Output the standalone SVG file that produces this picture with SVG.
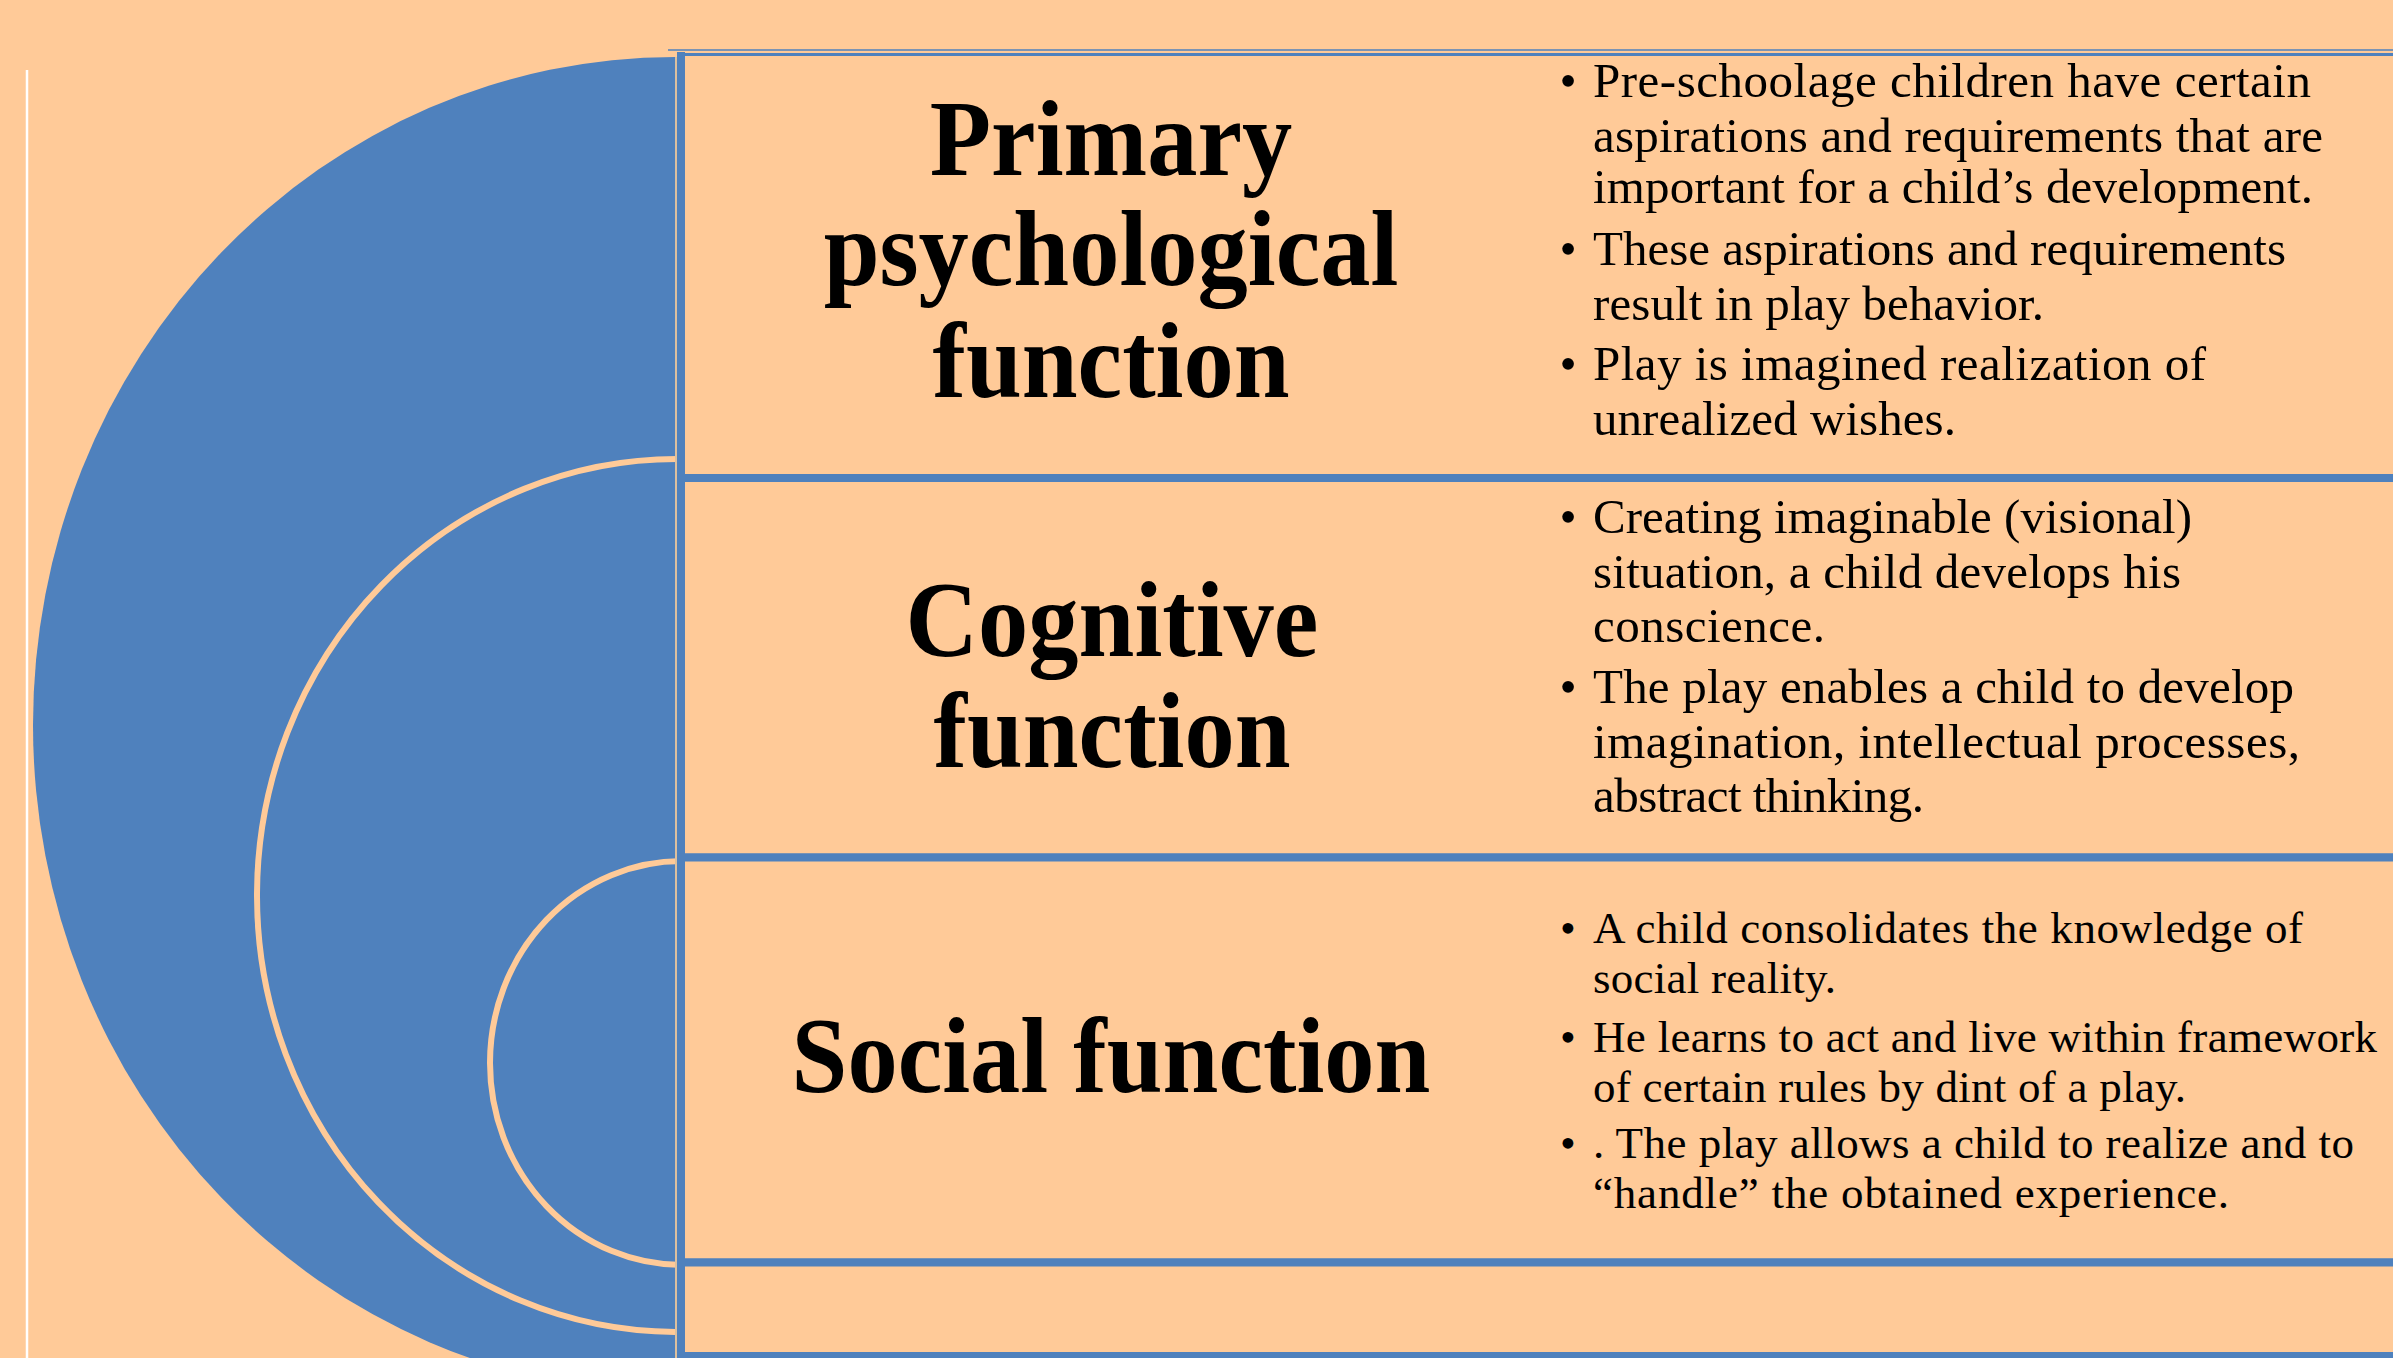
<svg xmlns="http://www.w3.org/2000/svg" width="2393" height="1358" viewBox="0 0 2393 1358">
  <style>
    .bg { fill: #FFCA98; }
    .disc { fill: #4F81BD; }
    .ring { fill: none; stroke: #FFCA98; stroke-width: 6; }
    .box { fill: #FFCA98; stroke: #4F81BD; stroke-width: 8; }
    .edge { fill: none; stroke: #4F81BD; }
    .title { font-family: "Liberation Serif", "Times New Roman", serif; font-weight: bold; font-size: 108px; fill: #000; text-anchor: middle; }
    .body { font-family: "Liberation Serif", "Times New Roman", serif; font-size: 49px; fill: #000; }
    .small { font-size: 45px; }
    .dot { text-anchor: middle; }
  </style>

  <!-- page background -->
  <rect class="bg" x="0" y="0" width="2393" height="1358"/>
  <line x1="27" y1="70" x2="27" y2="1358" stroke="#FFFFFF" stroke-width="2.5"/>

  <!-- nested half-disc on the left -->
  <g id="target">
    <path class="disc" d="M675,57 A642,668 0 0 0 675,1393 Z"/>
    <path class="ring" d="M679,459 A420,436.5 0 0 0 675,1332"/>
    <path class="ring" d="M682,861 A192,202 0 0 0 682,1265"/>
    <line x1="676" y1="57" x2="676" y2="1358" stroke="#D2BCA0" stroke-width="1.5"/>
  </g>

  <g id="connectors"></g>

  <!-- panel 1 -->
  <g id="box-primary">
    <rect x="681" y="54" width="1800" height="424" fill="#FFCA98"/>
    <path class="edge" stroke-width="8" d="M681,52 V478 H2400"/>
    <path class="edge" stroke-width="3" d="M677,54.5 H2400"/>
    <path class="edge" stroke-width="1.5" d="M668,50 H2400"/>
    <text class="title" transform="translate(1111,175) scale(0.93,1)">Primary</text>
    <text class="title" transform="translate(1111,285) scale(0.93,1)">psychological</text>
    <text class="title" transform="translate(1111,397) scale(0.93,1)">function</text>
    <g class="body">
      <text class="dot" x="1568" y="97">•</text>
      <text x="1593" y="97" textLength="718" lengthAdjust="spacing">Pre-schoolage children have certain</text>
      <text x="1593" y="152" textLength="730" lengthAdjust="spacing">aspirations and requirements that are</text>
      <text x="1593" y="203" textLength="720" lengthAdjust="spacing">important for a child’s development.</text>
      <text class="dot" x="1568" y="265">•</text>
      <text x="1593" y="265" textLength="693" lengthAdjust="spacing">These aspirations and requirements</text>
      <text x="1593" y="320" textLength="451" lengthAdjust="spacing">result in play behavior.</text>
      <text class="dot" x="1568" y="380">•</text>
      <text x="1593" y="380" textLength="613" lengthAdjust="spacing">Play is imagined realization of</text>
      <text x="1593" y="435" textLength="363" lengthAdjust="spacing">unrealized wishes.</text>
    </g>
  </g>

  <!-- panel 2 -->
  <g id="box-cognitive">
    <rect class="box" x="681" y="478" width="1800" height="379.5"/>
    <text class="title" transform="translate(1112,656) scale(0.93,1)">Cognitive</text>
    <text class="title" transform="translate(1112,767) scale(0.93,1)">function</text>
    <g class="body">
      <text class="dot" x="1568" y="533">•</text>
      <text x="1593" y="533" textLength="599" lengthAdjust="spacing">Creating imaginable (visional)</text>
      <text x="1593" y="588" textLength="588" lengthAdjust="spacing">situation, a child develops his</text>
      <text x="1593" y="642" textLength="232" lengthAdjust="spacing">conscience.</text>
      <text class="dot" x="1568" y="703">•</text>
      <text x="1593" y="703" textLength="701" lengthAdjust="spacing">The play enables a child to develop</text>
      <text x="1593" y="758" textLength="707" lengthAdjust="spacing">imagination, intellectual processes,</text>
      <text x="1593" y="812" textLength="331" lengthAdjust="spacing">abstract thinking.</text>
    </g>
  </g>

  <!-- panel 3 -->
  <g id="box-social">
    <rect class="box" x="681" y="857.5" width="1800" height="405"/>
    <text class="title" transform="translate(1111,1092) scale(0.93,1)">Social function</text>
    <g class="body small">
      <text class="dot" x="1568" y="943">•</text>
      <text x="1593" y="943" textLength="710" lengthAdjust="spacing">A child consolidates the knowledge of</text>
      <text x="1593" y="993" textLength="243" lengthAdjust="spacing">social reality.</text>
      <text class="dot" x="1568" y="1052">•</text>
      <text x="1593" y="1052" textLength="784" lengthAdjust="spacing">He learns to act and live within framework</text>
      <text x="1593" y="1102" textLength="593" lengthAdjust="spacing">of certain rules by dint of a play.</text>
      <text class="dot" x="1568" y="1158">•</text>
      <text x="1593" y="1158" textLength="761" lengthAdjust="spacing">. The play allows a child to realize and to</text>
      <text x="1593" y="1208" textLength="636" lengthAdjust="spacing">“handle” the obtained experience.</text>
    </g>
  </g>

  <!-- empty panel at the foot -->
  <g id="box-empty">
    <rect class="box" x="681" y="1262.5" width="1800" height="93.5"/>
  </g>
</svg>
